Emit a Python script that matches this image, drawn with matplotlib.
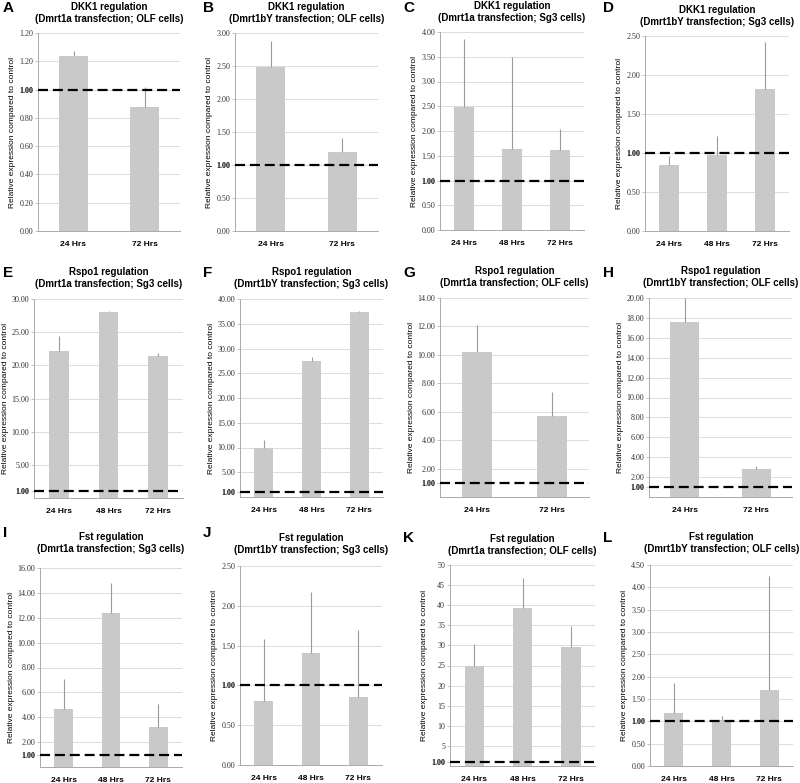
import matplotlib
matplotlib.use("Agg")
import matplotlib.pyplot as plt

# ---- data ----
letters = ["A", "B", "C", "D", "E", "F", "G", "H", "I", "J", "K", "L"]
genes = ["DKK1", "DKK1", "DKK1", "DKK1",
         "Rspo1", "Rspo1", "Rspo1", "Rspo1",
         "Fst", "Fst", "Fst", "Fst"]
conditions = ["Dmrt1a transfection; OLF cells", "Dmrt1bY transfection; OLF cells",
              "Dmrt1a transfection; Sg3 cells", "Dmrt1bY transfection; Sg3 cells",
              "Dmrt1a transfection; Sg3 cells", "Dmrt1bY transfection; Sg3 cells",
              "Dmrt1a transfection; OLF cells", "Dmrt1bY transfection; OLF cells",
              "Dmrt1a transfection; Sg3 cells", "Dmrt1bY transfection; Sg3 cells",
              "Dmrt1a transfection; OLF cells", "Dmrt1bY transfection; OLF cells"]
times2 = ["24 Hrs", "72 Hrs"]
times3 = ["24 Hrs", "48 Hrs", "72 Hrs"]
categories = [times2, times2, times3, times3,
              times3, times3, times2, times2,
              times3, times3, times3, times3]
values = [[1.24, 0.88], [2.48, 1.20], [2.48, 1.64, 1.62], [0.84, 0.98, 1.82],
          [22.1, 28.1, 21.4], [10.0, 27.4, 37.4], [10.2, 5.7], [17.6, 2.85],
          [4.7, 12.4, 3.2], [0.80, 1.41, 0.86], [25.0, 39.2, 29.7], [1.19, 1.03, 1.71]]
errors = [[0.03, 0.14], [0.40, 0.21], [1.38, 1.85, 0.43], [0.12, 0.24, 0.60],
          [2.3, 0.1, 0.4], [1.6, 0.8, 0.2], [1.9, 1.7], [2.4, 0.25],
          [2.4, 2.4, 1.9], [0.78, 0.76, 0.84], [5.4, 7.6, 5.1], [0.66, 0.09, 2.55]]
ymax = [1.4, 3.0, 4.0, 2.5, 30, 40, 14, 20, 16, 2.5, 50, 4.5]
ystep = [0.2, 0.5, 0.5, 0.5, 5, 5, 2, 2, 2, 0.5, 5, 0.5]
# panels where the zero tick is replaced by a "1.00" tick
one_tick = [False, False, False, False, True, True, True, True, True, False, True, False]
int_labels = [False] * 10 + [True, False]

# axes boxes in pixels: left, right, top, bottom
boxes = [(38, 180, 33, 231), (235, 378, 33, 231), (440, 584, 32, 230), (645, 789, 36, 231),
         (34, 183, 299, 498), (240, 383, 299, 497), (440, 589, 298, 497), (649, 792, 298, 497),
         (40, 182, 568, 767), (240, 382, 566, 765), (450, 595, 565, 766), (650, 793, 565, 766)]
title_gap = [9, 9, 9, 9, 10, 10, 10, 10, 14, 11, 9, 11]
letter_pos = [(3, 8), (203, 8), (403, 8), (603, 8),
              (3, 273), (203, 273), (403, 273), (603, 273),
              (3, 533), (203, 533), (403, 538), (603, 538)]

W, H = 800, 783
fig = plt.figure(figsize=(W / 100, H / 100), dpi=100)

bar_color = "#c9c9c9"
grid_color = "#dcdcdc"

for i in range(12):
    l, r, t, b = boxes[i]
    ax = fig.add_axes([l / W, 1 - b / H, (r - l) / W, (b - t) / H])
    cats = categories[i]
    x = list(range(len(cats)))
    ax.bar(x, values[i], width=0.4, color=bar_color, zorder=2)
    ax.errorbar(x, values[i], yerr=[[0] * len(x), errors[i]], fmt="none",
                ecolor="#9a9a9a", elinewidth=0.8, capsize=0, zorder=3)
    ax.axhline(1.0, color="black", lw=1.6, dashes=(4.5, 2.2), zorder=4)

    ax.set_xlim(-0.5, len(cats) - 0.5)
    ax.set_ylim(0, ymax[i])
    n = int(round(ymax[i] / ystep[i]))
    grid_vals = [k * ystep[i] for k in range(n + 1)]
    if one_tick[i]:
        tick_vals = [1.0] + grid_vals[1:]
    else:
        tick_vals = grid_vals
    ax.set_yticks(tick_vals)
    labels = []
    for v in tick_vals:
        if int_labels[i] and v != 1.0:
            labels.append("%d" % v)
        else:
            labels.append("%.2f" % v)
    if i == 0:
        labels[-1] = "1.20"
    ax.set_yticklabels(labels, fontfamily="Liberation Serif", fontsize=5.8, color="#333333")
    for lab, v in zip(ax.get_yticklabels(), tick_vals):
        if abs(v - 1.0) < 1e-9:
            lab.set_fontweight("bold")
            lab.set_color("black")
    for v in grid_vals[1:]:
        ax.axhline(v, color=grid_color, lw=0.7, zorder=1)

    ax.set_xticks(x)
    ax.set_xticklabels(cats, fontfamily="Liberation Sans", fontweight="bold", fontsize=6)
    ax.tick_params(axis="x", length=0, pad=7)
    ax.tick_params(axis="y", length=2, width=0.5, color="#aaaaaa", pad=1.5)

    for s in ["top", "right"]:
        ax.spines[s].set_visible(False)
    for s in ["left", "bottom"]:
        ax.spines[s].set_color("#aaaaaa")
        ax.spines[s].set_linewidth(0.7)

    ax.set_ylabel("Relative expression compared to control", fontfamily="Liberation Sans",
                  fontsize=6, labelpad=2)

    cx = (l + r) / 2 / W
    fig.text(cx, 1 - (t - title_gap[i]) / H, "%s regulation\n(%s)" % (genes[i], conditions[i]),
             ha="center", va="bottom", fontfamily="Liberation Sans", fontweight="bold",
             fontsize=7, linespacing=1.2)
    lx, ly = letter_pos[i]
    fig.text(lx / W, 1 - ly / H, letters[i], ha="left", va="center",
             fontfamily="Liberation Sans", fontweight="bold", fontsize=11)

fig.savefig("out.png", dpi=100)
